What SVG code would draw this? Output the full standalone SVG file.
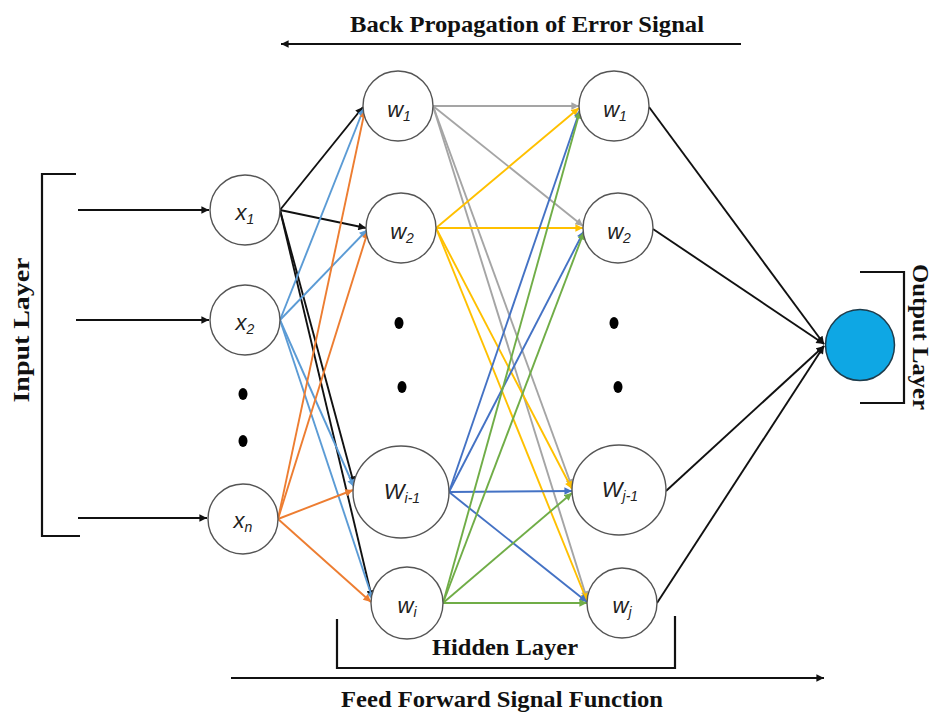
<svg xmlns="http://www.w3.org/2000/svg" width="936" height="713" viewBox="0 0 936 713">
  <style>
    .node { fill: #ffffff; stroke: #555555; stroke-width: 1.4; }
    .lbl { font-family: "Liberation Sans", Arial, sans-serif; font-style: italic; font-size: 22px; fill: #222; text-anchor: middle; }
    .sub { font-size: 14px; }
    .title { font-family: "Liberation Serif", "Times New Roman", serif; font-weight: bold; font-size: 24px; fill: #111; text-anchor: middle; }
    .conn { fill: none; stroke-width: 1.9; }
    .k { stroke: #111111; }
    .lb { stroke: #5b9bd5; }
    .or { stroke: #ed7d31; }
    .gr { stroke: #a5a5a5; }
    .ye { stroke: #ffc000; }
    .db { stroke: #4472c4; }
    .gn { stroke: #70ad47; }
    .brk { fill: none; stroke: #111; stroke-width: 2.2; }
    .dot { fill: #000; }
  </style>
  <defs>
    <marker id="ah-k" viewBox="0 0 10 10" refX="10" refY="5" markerWidth="4.5" markerHeight="4" orient="auto" markerUnits="strokeWidth"><path d="M0,0 L10,5 L0,10 z" fill="#111111"/></marker>
    <marker id="ah-lb" viewBox="0 0 10 10" refX="10" refY="5" markerWidth="4.5" markerHeight="4" orient="auto" markerUnits="strokeWidth"><path d="M0,0 L10,5 L0,10 z" fill="#5b9bd5"/></marker>
    <marker id="ah-or" viewBox="0 0 10 10" refX="10" refY="5" markerWidth="4.5" markerHeight="4" orient="auto" markerUnits="strokeWidth"><path d="M0,0 L10,5 L0,10 z" fill="#ed7d31"/></marker>
    <marker id="ah-gr" viewBox="0 0 10 10" refX="10" refY="5" markerWidth="4.5" markerHeight="4" orient="auto" markerUnits="strokeWidth"><path d="M0,0 L10,5 L0,10 z" fill="#a5a5a5"/></marker>
    <marker id="ah-ye" viewBox="0 0 10 10" refX="10" refY="5" markerWidth="4.5" markerHeight="4" orient="auto" markerUnits="strokeWidth"><path d="M0,0 L10,5 L0,10 z" fill="#ffc000"/></marker>
    <marker id="ah-db" viewBox="0 0 10 10" refX="10" refY="5" markerWidth="4.5" markerHeight="4" orient="auto" markerUnits="strokeWidth"><path d="M0,0 L10,5 L0,10 z" fill="#4472c4"/></marker>
    <marker id="ah-gn" viewBox="0 0 10 10" refX="10" refY="5" markerWidth="4.5" markerHeight="4" orient="auto" markerUnits="strokeWidth"><path d="M0,0 L10,5 L0,10 z" fill="#70ad47"/></marker>
  </defs>

  <rect width="936" height="713" fill="#ffffff"/>

  <!-- signal direction arrows and captions -->
  <g id="signal-arrows">
    <text class="title" x="527" y="32" textLength="354" lengthAdjust="spacingAndGlyphs">Back Propagation of Error Signal</text>
    <path class="conn k" d="M741,44 H281" stroke-width="2" marker-end="url(#ah-k)"/>
    <path class="conn k" d="M231,678 H824" stroke-width="2" marker-end="url(#ah-k)"/>
    <text class="title" x="502" y="707" textLength="322" lengthAdjust="spacingAndGlyphs">Feed Forward Signal Function</text>
  </g>

  <!-- layer brackets -->
  <g id="input-layer-bracket">
    <path class="brk" d="M76,174 H42 V536 H80"/>
    <text class="title" transform="translate(29,330) rotate(-90)" font-size="25" textLength="145" lengthAdjust="spacingAndGlyphs">Input Layer</text>
  </g>
  <g id="hidden-layer-bracket">
    <path class="brk" d="M337,619 V668 H675 V616"/>
    <text class="title" x="505" y="655" textLength="146" lengthAdjust="spacingAndGlyphs">Hidden Layer</text>
  </g>
  <g id="output-layer-bracket">
    <path class="brk" d="M860,272 H904 V403 H860"/>
    <text class="title" transform="translate(913,337) rotate(90)" font-size="23" textLength="146" lengthAdjust="spacingAndGlyphs">Output Layer</text>
  </g>

  <!-- weighted connections -->
  <g id="connectors">
    <!-- external inputs -->
    <path class="conn k" d="M78,210 H209" marker-end="url(#ah-k)"/>
    <path class="conn k" d="M76,320 H209" marker-end="url(#ah-k)"/>
    <path class="conn k" d="M78,518 H207" marker-end="url(#ah-k)"/>

    <!-- input layer to first hidden layer -->
    <path class="conn k" d="M280,210 L363,107" marker-end="url(#ah-k)"/>
    <path class="conn k" d="M280,210 L366,228" marker-end="url(#ah-k)"/>
    <path class="conn k" d="M280,210 L354,484" marker-end="url(#ah-k)"/>
    <path class="conn k" d="M280,210 L372,598" marker-end="url(#ah-k)"/>

    <path class="conn lb" d="M280,320 L364,108" marker-end="url(#ah-lb)"/>
    <path class="conn lb" d="M280,320 L367,230" marker-end="url(#ah-lb)"/>
    <path class="conn lb" d="M280,320 L354,487" marker-end="url(#ah-lb)"/>
    <path class="conn lb" d="M280,320 L373,600" marker-end="url(#ah-lb)"/>

    <path class="conn or" d="M278,519 L365,110" marker-end="url(#ah-or)"/>
    <path class="conn or" d="M278,519 L368,231" marker-end="url(#ah-or)"/>
    <path class="conn or" d="M278,519 L353,490" marker-end="url(#ah-or)"/>
    <path class="conn or" d="M278,519 L371,602" marker-end="url(#ah-or)"/>

    <!-- first hidden layer to second hidden layer -->
    <path class="conn gr" d="M433,106 L579,106" marker-end="url(#ah-gr)"/>
    <path class="conn gr" d="M433,106 L583,226" marker-end="url(#ah-gr)"/>
    <path class="conn gr" d="M433,106 L572,487" marker-end="url(#ah-gr)"/>
    <path class="conn gr" d="M433,106 L587,599" marker-end="url(#ah-gr)"/>

    <path class="conn ye" d="M436,228 L579,108" marker-end="url(#ah-ye)"/>
    <path class="conn ye" d="M436,228 L583,228" marker-end="url(#ah-ye)"/>
    <path class="conn ye" d="M436,228 L572,489" marker-end="url(#ah-ye)"/>
    <path class="conn ye" d="M436,228 L587,601" marker-end="url(#ah-ye)"/>

    <path class="conn db" d="M449,492 L580,110" marker-end="url(#ah-db)"/>
    <path class="conn db" d="M449,492 L584,231" marker-end="url(#ah-db)"/>
    <path class="conn db" d="M449,492 L572,491" marker-end="url(#ah-db)"/>
    <path class="conn db" d="M449,492 L587,602" marker-end="url(#ah-db)"/>

    <path class="conn gn" d="M443,603 L580,111" marker-end="url(#ah-gn)"/>
    <path class="conn gn" d="M443,603 L584,232" marker-end="url(#ah-gn)"/>
    <path class="conn gn" d="M443,603 L572,493" marker-end="url(#ah-gn)"/>
    <path class="conn gn" d="M443,603 L587,603" marker-end="url(#ah-gn)"/>

    <!-- second hidden layer to output -->
    <path class="conn k" d="M649,107 L824,344" marker-end="url(#ah-k)"/>
    <path class="conn k" d="M653,229 L824,344" marker-end="url(#ah-k)"/>
    <path class="conn k" d="M666,491 L824,346" marker-end="url(#ah-k)"/>
    <path class="conn k" d="M657,603 L824,346" marker-end="url(#ah-k)"/>
  </g>

  <!-- input layer -->
  <g id="node-x1"><circle class="node" cx="245" cy="210" r="35"/><text class="lbl" x="245" y="220">x<tspan class="sub" dy="4">1</tspan></text></g>
  <g id="node-x2"><circle class="node" cx="245" cy="320" r="35"/><text class="lbl" x="245" y="330">x<tspan class="sub" dy="4">2</tspan></text></g>
  <g id="dots-input"><ellipse class="dot" cx="243" cy="394" rx="4.5" ry="6"/><ellipse class="dot" cx="243" cy="441" rx="4.5" ry="6"/></g>
  <g id="node-xn"><circle class="node" cx="243" cy="519" r="35"/><text class="lbl" x="243" y="528">x<tspan class="sub" dy="4">n</tspan></text></g>

  <!-- first hidden layer -->
  <g id="node-h1"><circle class="node" cx="398" cy="106" r="35"/><text class="lbl" x="399" y="117">w<tspan class="sub" dy="4">1</tspan></text></g>
  <g id="node-h2"><circle class="node" cx="401" cy="228" r="35"/><text class="lbl" x="402" y="239">w<tspan class="sub" dy="4">2</tspan></text></g>
  <g id="dots-h"><ellipse class="dot" cx="399" cy="323" rx="4.5" ry="6"/><ellipse class="dot" cx="402" cy="387" rx="4.5" ry="6"/></g>
  <g id="node-h3"><ellipse class="node" cx="401" cy="492" rx="48" ry="46"/><text class="lbl" x="402" y="499">W<tspan class="sub" dy="4">i-1</tspan></text></g>
  <g id="node-h4"><circle class="node" cx="407" cy="603" r="36"/><text class="lbl" x="407" y="613">w<tspan class="sub" dy="4">i</tspan></text></g>

  <!-- second hidden layer -->
  <g id="node-o1"><circle class="node" cx="614" cy="106" r="35"/><text class="lbl" x="615" y="117">w<tspan class="sub" dy="4">1</tspan></text></g>
  <g id="node-o2"><circle class="node" cx="618" cy="228" r="35"/><text class="lbl" x="619" y="239">w<tspan class="sub" dy="4">2</tspan></text></g>
  <g id="dots-o"><ellipse class="dot" cx="614" cy="323" rx="4.5" ry="6"/><ellipse class="dot" cx="618" cy="387" rx="4.5" ry="6"/></g>
  <g id="node-o3"><ellipse class="node" cx="619" cy="490" rx="47" ry="45"/><text class="lbl" x="620" y="497">W<tspan class="sub" dy="4">j-1</tspan></text></g>
  <g id="node-o4"><circle class="node" cx="622" cy="603" r="35"/><text class="lbl" x="622" y="613">w<tspan class="sub" dy="4">j</tspan></text></g>

  <!-- output neuron -->
  <g id="node-out"><ellipse cx="860" cy="345" rx="34.5" ry="35.5" fill="#0ea7e4" stroke="#1d3c4c" stroke-width="1.5"/></g>
</svg>
